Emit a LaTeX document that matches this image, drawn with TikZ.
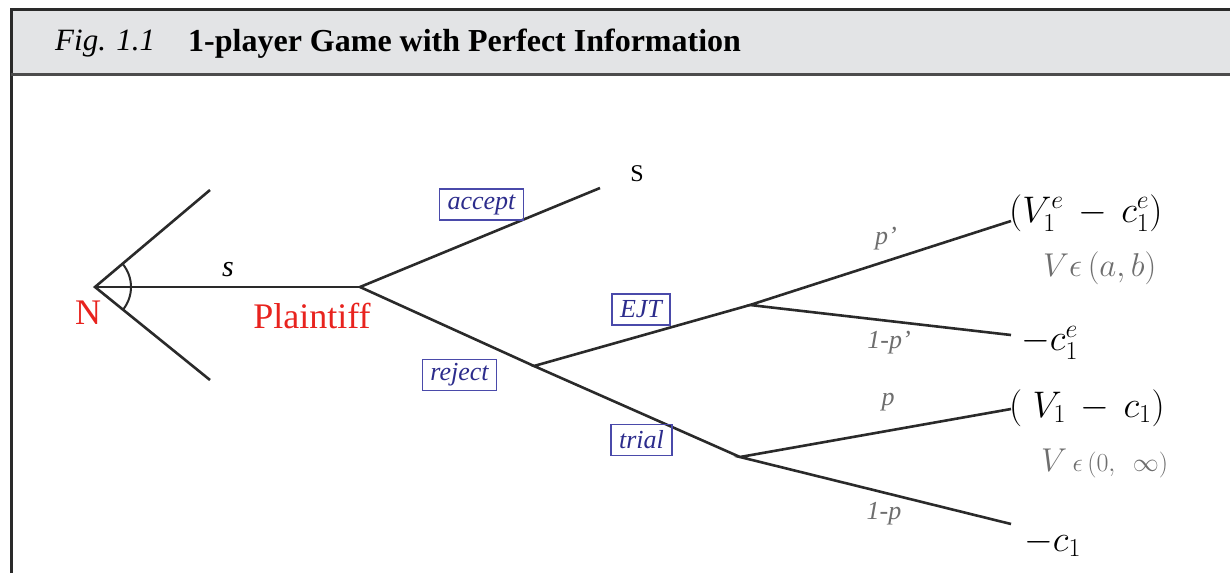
\documentclass[tikz,border=0pt]{standalone}
\usepackage{fix-cm}
\usepackage[no-math]{fontspec}
\setmainfont{Liberation Serif}
\definecolor{hdrgray}{HTML}{E3E4E6}
\definecolor{framedark}{HTML}{2A2A2A}
\definecolor{boxblue}{HTML}{4A4AAA}
\definecolor{boxtext}{HTML}{2C2C8C}
\definecolor{lblgray}{HTML}{6E6E6E}
\definecolor{plred}{HTML}{E8231E}
\newcommand{\fsz}[1]{\fontsize{#1}{#1}\selectfont}
\tikzset{
  branch/.style={line width=2.6pt, draw=framedark},
  actbox/.style={draw=boxblue, line width=1.3pt, text=boxtext, font=\fsz{26}\itshape,
    inner xsep=8pt, inner ysep=0pt, minimum height=31pt},
  problbl/.style={text=lblgray, font=\fsz{26}\itshape, inner sep=0pt},
  payoff/.style={anchor=west, inner sep=0pt, font=\fsz{37}},
  rangelbl/.style={anchor=west, inner sep=0pt, text=lblgray, font=\fsz{33}},
  playerlbl/.style={text=plred, font=\fsz{36}, inner sep=0pt}
}
\begin{document}
\begin{tikzpicture}[x=1pt,y=-1pt]
\useasboundingbox (0,0) rectangle (1230,573);
% frame and header
\fill[hdrgray] (11,9) rectangle (1230,73);
\draw[framedark, line width=3pt] (11,573) -- (11,9) -- (1230,9);
\draw[black!70, line width=3pt] (11,74) -- (1230,74);
\node[anchor=west, inner sep=0pt, font=\fsz{31}\itshape] (figno) at (55,44) {Fig. 1.1};
\node[anchor=west, inner sep=0pt, font=\fsz{32}\bfseries] (title) at (188,44) {1-player Game with Perfect Information};
% tree nodes
\coordinate (N) at (95,287);
\coordinate (Nup) at (210,190);
\coordinate (Ndn) at (210,380);
\coordinate (P) at (360,287);
\coordinate (Acc) at (600,188);
\coordinate (R) at (534,366);
\coordinate (E) at (750,305);
\coordinate (T) at (740,457);
\coordinate (E1) at (1011,221);
\coordinate (E2) at (1011,335);
\coordinate (T1) at (1011,409);
\coordinate (T2) at (1011,524);
% branches
\draw[branch] (Nup) -- (N) -- (Ndn);
\draw[branch] (N) -- (P);
\draw[branch] (Acc) -- (P) -- (R);
\draw[branch] (E) -- (R) -- (T);
\draw[branch] (E1) -- (E) -- (E2);
\draw[branch] (T1) -- (T) -- (T2);
% angle arc at N
\draw[framedark, line width=2pt] ([shift={(40:36)}]N) arc[start angle=40, end angle=-40, radius=36];
% labels
\node[font=\fsz{30}\itshape, inner sep=0pt] (slbl) at (228,270) {s};
\node[playerlbl] (Nlbl) at (88,313) {N};
\node[playerlbl] (Plbl) at (312,316) {Plaintiff};
\node[font=\fsz{24}, inner sep=0pt] (Slbl) at (637,174) {S};
\node[actbox] (accept) at (481.5,204.5) {accept};
\node[actbox] (ejt) at (641,309.5) {EJT};
\node[actbox] (reject) at (459.5,375) {reject};
\node[actbox] (trial) at (641.5,440) {trial};
\node[problbl] (pp) at (886,239) {p’};
\node[problbl] (qp) at (889,343) {1-p’};
\node[problbl] (p) at (888,402) {p};
\node[problbl] (q) at (884,514) {1-p};
% payoffs
\node[payoff] (pay1) at (1009,213) {$(V_1^e\,-\,c_1^e)$};
\node[rangelbl] (rng1) at (1043,268) {$V\epsilon\,(a,b)$};
\node[payoff] (pay2) at (1021,343) {$-c_1^e$};
\node[payoff] (pay3) at (1009,408) {$(\;V_1\,-\,c_1)$};
\node[rangelbl] (rng2) at (1041,463) {$V$\,{\fsz{26}$\epsilon\,(0,\ \ \infty)$}};
\node[payoff] (pay4) at (1024,543) {$-c_1$};
\end{tikzpicture}
\end{document}
